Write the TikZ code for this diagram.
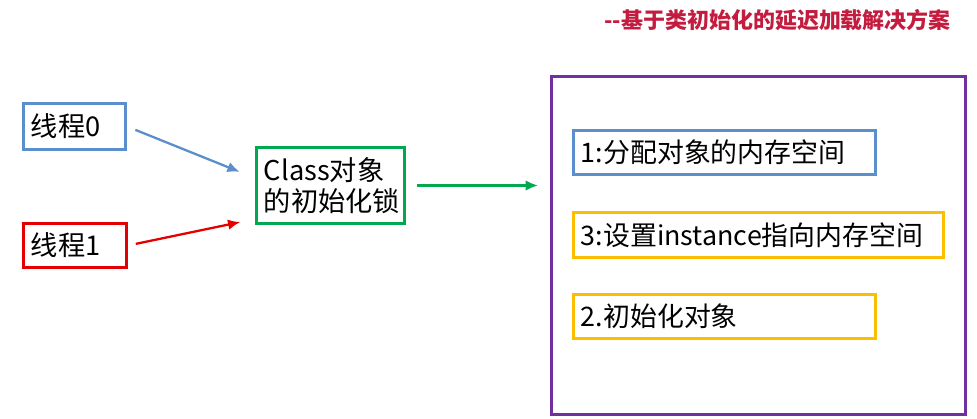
\documentclass[tikz,border=0pt]{standalone}
\usepackage{fontspec}
\setmainfont{Noto Sans CJK SC}
\usepackage{tikz}
\usetikzlibrary{arrows.meta}
\definecolor{threadblue}{RGB}{91,142,204}
\definecolor{threadred}{RGB}{228,0,0}
\definecolor{lockgreen}{RGB}{0,168,80}
\definecolor{mempurple}{RGB}{112,48,160}
\definecolor{stepyellow}{RGB}{252,190,0}
\definecolor{titlered}{RGB}{196,28,62}

\begin{document}
\begin{tikzpicture}[x=0.02cm,y=-0.02cm,
    box/.style={draw,line width=1.7pt,anchor=north west,align=left,
      inner xsep=0.15cm,inner ysep=0pt,font=\fontsize{15.5}{19}\selectfont},
    arr/.style={line width=1.3pt,-{Latex[length=7pt,width=6pt]}}]
    \useasboundingbox (0,0) rectangle (977,419);
    \node [anchor=east,text=titlered,font=\fontsize{12.5}{15}\selectfont\bfseries]
      (title) at (957,20) {{-}{-}基于类初始化的延迟加载解决方案};
    % threads and lock
    \node [box,draw=threadblue,text width=1.74cm,minimum height=0.92cm] (t0) at (22,102) {线程0};
    \node [box,draw=threadred,text width=1.76cm,minimum height=0.88cm] (t1) at (22,222) {线程1};
    \node [box,draw=lockgreen,text width=2.66cm,minimum height=1.52cm,
      font=\fontsize{15.5}{18}\selectfont] (lock) at (255,146) {Class对象\\的初始化锁};
    \coordinate (lkA) at (255,178);
    \coordinate (lkB) at (255,219);
    \draw [arr,threadblue,shorten <=0.18cm,shorten >=0.33cm] (t0.east) -- (lkA);
    \draw [arr,threadred,shorten <=0.16cm,shorten >=0.3cm] (t1.east) -- (lkB);
    % memory steps
    \node [draw=mempurple,line width=1.7pt,anchor=north west,minimum width=8.28cm,
      minimum height=6.76cm] (mem) at (550,75) {};
    \draw [arr,lockgreen,shorten <=0.22cm,shorten >=0.24cm] (lock.east) -- (lock.east -| mem.west);
    \node [box,draw=threadblue,text width=5.74cm,minimum height=0.88cm,
      font=\fontsize{15.3}{19}\selectfont] (s1) at (572,129) {1:分配对象的内存空间};
    \node [box,draw=stepyellow,text width=7.1cm,minimum height=0.9cm,
      font=\fontsize{15.3}{19}\selectfont] (s3) at (572,211) {3:设置instance指向内存空间};
    \node [box,draw=stepyellow,text width=5.74cm,minimum height=0.88cm,
      font=\fontsize{15.3}{19}\selectfont] (s2) at (572,293) {2.初始化对象};
\end{tikzpicture}
\end{document}
